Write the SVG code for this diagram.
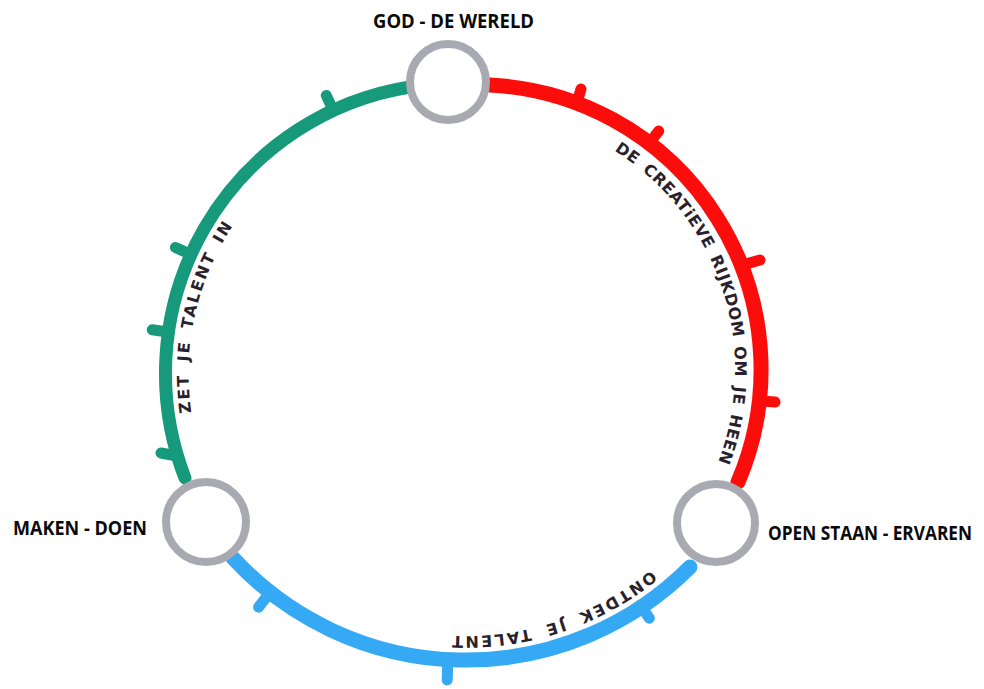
<svg xmlns="http://www.w3.org/2000/svg" width="984" height="689" viewBox="0 0 984 689">
  <style>
    .arc{fill:none;stroke-linecap:round;stroke-linejoin:round}
    .tick{fill:none;stroke-linecap:round;stroke-width:11}
    .green{stroke:#169a7b}
    .red{stroke:#fc0d0b}
    .blue{stroke:#36a9f4}
    .node{fill:#ffffff;stroke:#a9a9b1;stroke-width:8}
    .label{font-family:"Open Sans","Liberation Sans",sans-serif;font-weight:700;font-size:20px;fill:#0a0a0a}
    .hand{font-family:"DejaVu Sans","Liberation Sans",sans-serif;font-weight:700;font-size:16px;fill:#2a1f2c}
  </style>
  <defs>
    <path id="pGreen" d="M185,478 A290,290 0 0 1 410,87"/>
    <path id="pRed" d="M490,85 A285,285 0 0 1 738,482"/>
    <path id="pBlue" d="M690,567 A316.5,316.5 0 0 1 233,558"/>
  </defs>

  <g id="connectors">
    <g id="arc-green">
      <use href="#pGreen" class="arc green" stroke-width="13"/>
      <path class="tick green" d="M333,110 L326.3,95.5 M190,254 L175.4,247.5 M168,332 L152.2,329.8 M177,456 L161,453"/>
      <text class="hand" dy="23" letter-spacing="3" word-spacing="4"><textPath href="#pGreen" startOffset="65">ZET JE TALENT IN</textPath></text>
    </g>
    <g id="arc-red">
      <use href="#pRed" class="arc red" stroke-width="15"/>
      <path class="tick red" d="M576.7,103.5 L581,89 M649,143.7 L658.7,131 M741,265.4 L760,260 M759.3,400.8 L775,402"/>
      <text class="hand" dy="26" letter-spacing="1.7" word-spacing="3"><textPath href="#pRed" startOffset="147">DE CREATiEVE RIJKDOM OM JE HEEN</textPath></text>
    </g>
    <g id="arc-blue">
      <use href="#pBlue" class="arc blue" stroke-width="15"/>
      <path class="tick blue" d="M268.4,594.5 L258.6,607.2 M447.9,659.7 L447.2,680 M640.3,605 L649.3,618.2"/>
      <text class="hand" dy="24" letter-spacing="3.2" word-spacing="6"><textPath href="#pBlue" startOffset="33">ONTDEK JE TALENT</textPath></text>
    </g>
  </g>

  <g id="node-god">
    <circle class="node" cx="448" cy="82" r="38"/>
    <text class="label" x="373" y="28" textLength="161" lengthAdjust="spacingAndGlyphs">GOD - DE WERELD</text>
  </g>
  <g id="node-maken">
    <circle class="node" cx="206" cy="522" r="40"/>
    <text class="label" x="13" y="535" textLength="134" lengthAdjust="spacingAndGlyphs">MAKEN - DOEN</text>
  </g>
  <g id="node-open">
    <circle class="node" cx="716" cy="523" r="39"/>
    <text class="label" x="768" y="540" font-size="18" textLength="204" lengthAdjust="spacingAndGlyphs">OPEN STAAN - ERVAREN</text>
  </g>
</svg>
